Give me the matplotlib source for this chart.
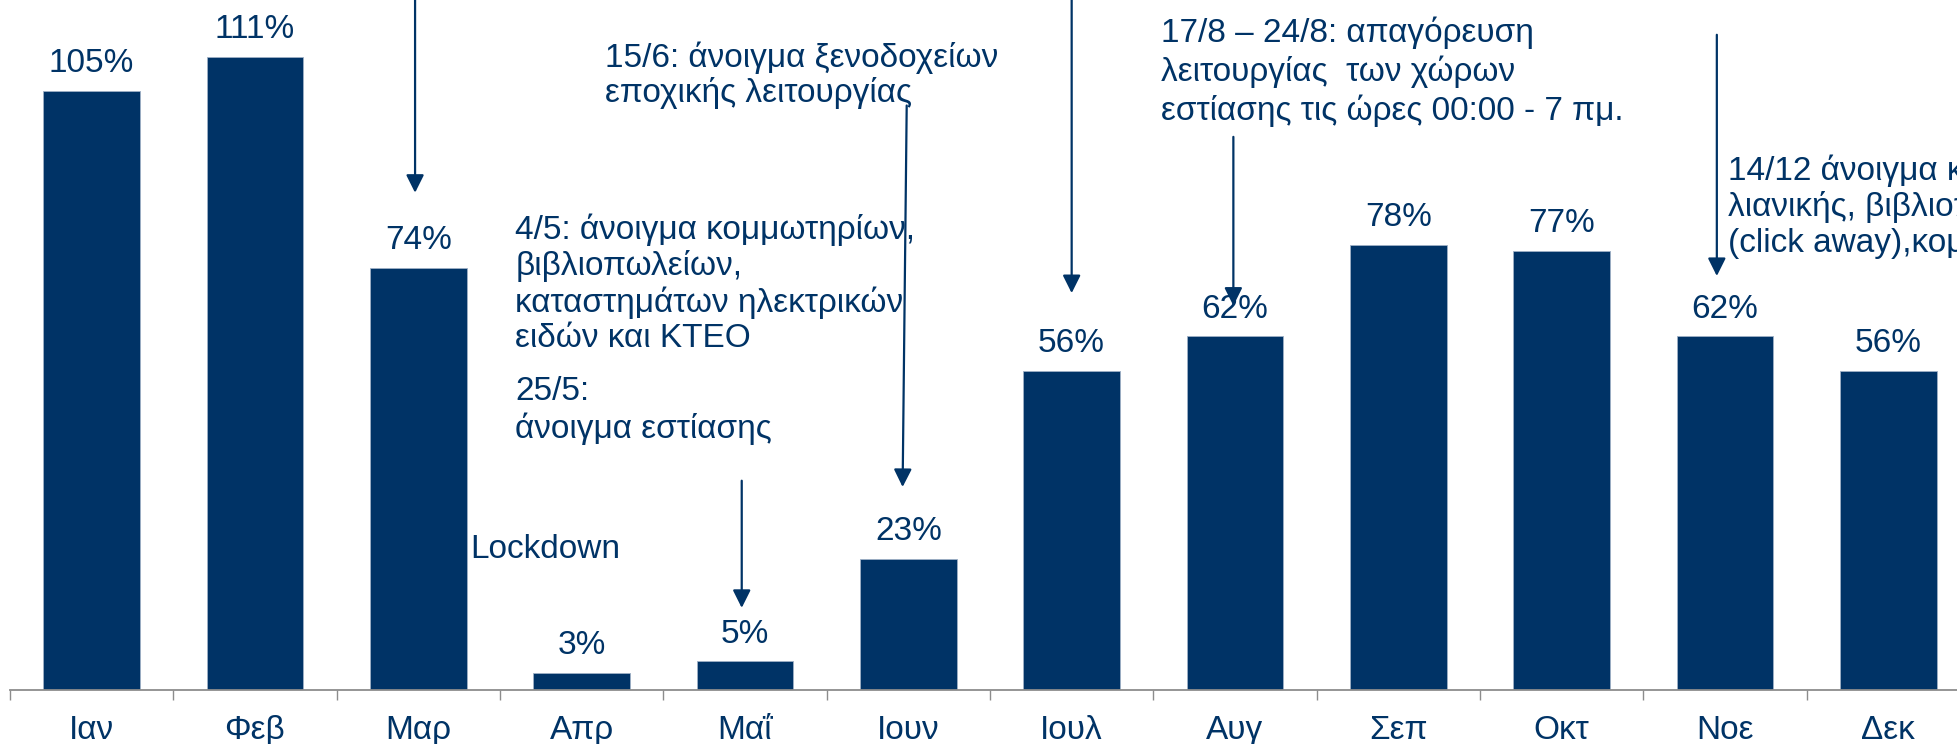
import matplotlib

matplotlib.use("Agg")
import matplotlib.pyplot as plt
import numpy as np
from matplotlib.ticker import FixedLocator

months = ["Ιαν", "Φεβ", "Μαρ", "Απρ", "Μαΐ", "Ιουν", "Ιουλ", "Αυγ", "Σεπ", "Οκτ", "Νοε", "Δεκ"]
occupancy = [105, 111, 74, 3, 5, 23, 56, 62, 78, 77, 62, 56]

note_jun = "15/6: άνοιγμα ξενοδοχείων\nεποχικής λειτουργίας"
note_may = "4/5: άνοιγμα κομμωτηρίων,\nβιβλιοπωλείων,\nκαταστημάτων ηλεκτρικών\nειδών και ΚΤΕΟ"
note_may2 = "25/5:\nάνοιγμα εστίασης"
note_apr = "Lockdown"
note_aug = "17/8 – 24/8: απαγόρευση\nλειτουργίας  των χώρων\nεστίασης τις ώρες 00:00 - 7 πμ."
note_dec = "14/12 άνοιγμα καταστημάτων\nλιανικής, βιβλιοπωλείων\n(click away),κομμωτηρίων"

NAVY = "#003366"
FONT = ["Liberation Sans", "DejaVu Sans"]
FS = 24

plt.rcParams["font.family"] = FONT

fig = plt.figure(figsize=(19.57, 7.44), dpi=100)
ax = fig.add_axes([10 / 1957, 54 / 744, 1960 / 1957, 690 / 744])

x = np.arange(len(months))
ax.bar(x, occupancy, width=0.59, color=NAVY, edgecolor="#9fb0c6", linewidth=0.6, zorder=2)

for xi, v in zip(x, occupancy):
    ax.annotate(f"{v}%", (xi, v), xytext=(0, 13.5), textcoords="offset points",
                ha="center", va="baseline", fontsize=FS, color=NAVY)

ax.set_xlim(-0.5, len(months) - 0.5)
ax.set_ylim(0, 121.0)

for side in ["left", "right", "top"]:
    ax.spines[side].set_visible(False)
ax.spines["bottom"].set_color("#8c8c8c")
ax.spines["bottom"].set_linewidth(1.3)
ax.set_yticks([])

ax.set_xticks(x)
ax.set_xticklabels(months, fontsize=FS, color=NAVY)
ax.tick_params(axis="x", which="major", length=0, pad=18)
ax.xaxis.set_minor_locator(FixedLocator(np.arange(-0.5, len(months), 1.0)))
ax.tick_params(axis="x", which="minor", length=7.5, width=1.0, color="#8c8c8c", direction="out")

# multi-line notes: y is the baseline of the last line
text_kw = dict(fontsize=FS, color=NAVY, ha="left", va="baseline")
ax.text(3.144, 103.1, note_jun, linespacing=1.14, **text_kw)
ax.text(2.593, 60.2, note_may, linespacing=1.17, **text_kw)
ax.text(2.593, 44.2, note_may2, linespacing=1.2, **text_kw)
ax.text(2.317, 23.2, note_apr, **text_kw)
ax.text(6.548, 100.0, note_aug, linespacing=1.25, **text_kw)
ax.text(10.02, 76.8, note_dec, linespacing=1.16, **text_kw)

arrow_kw = dict(arrowstyle="-|>", color=NAVY, lw=1.6, mutation_scale=27, shrinkA=0, shrinkB=0)
arrows = [
    ((1.98, 87.2), (1.98, 135)),
    ((4.965, 35.6), (4.99, 102.5)),
    ((3.98, 14.4), (3.98, 36.7)),
    ((6.0, 69.6), (6.0, 135)),
    ((6.99, 67.4), (6.99, 97.0)),
    ((9.95, 72.6), (9.95, 114.9)),
]
for tip, tail in arrows:
    ax.annotate("", xy=tip, xytext=tail, xycoords="data", textcoords="data",
                arrowprops=arrow_kw, annotation_clip=False)

fig.savefig("out.png", dpi=100)
